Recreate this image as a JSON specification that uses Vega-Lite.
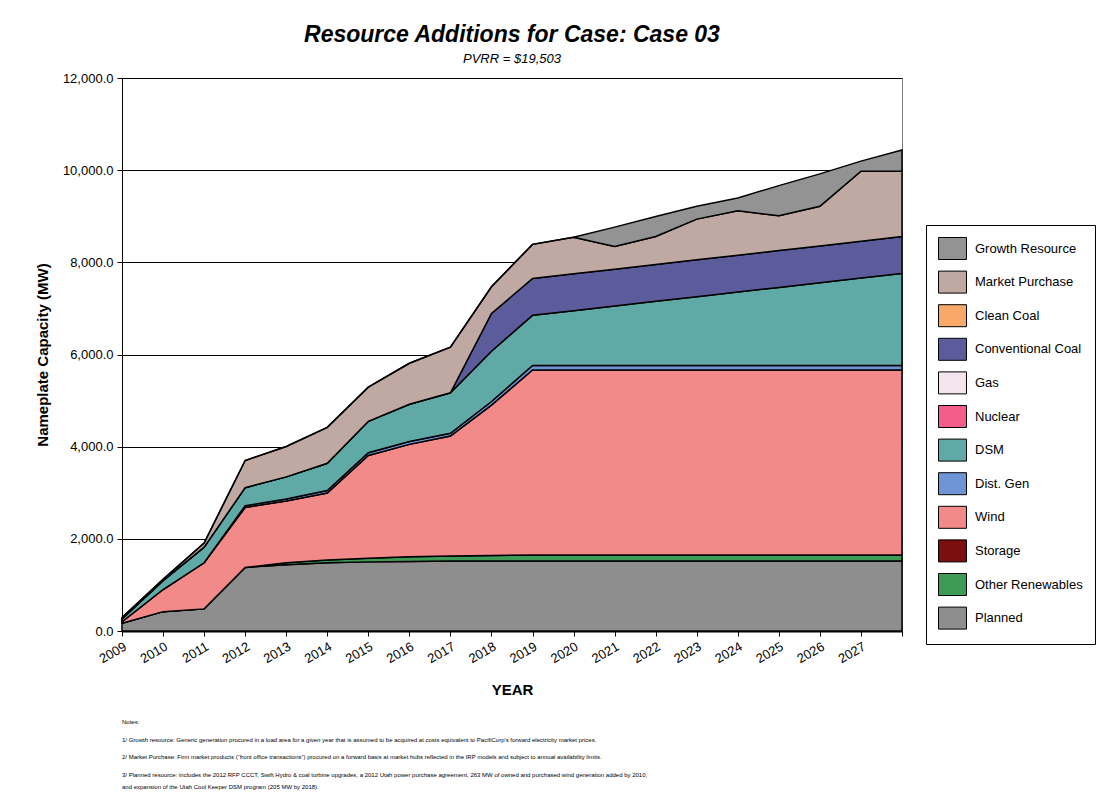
{
  "$schema": "https://vega.github.io/schema/vega-lite/v6.json",
  "background": "white",
  "padding": {"left": 34, "top": 23, "right": 5, "bottom": 5},
  "config": {
    "font": "Liberation Sans",
    "view": {"stroke": "#808080"}
  },
  "datasets": {
    "mw": [
      {"year": 2009, "planned": 170, "otherRen": 0, "wind": 30, "distGen": 0, "dsm": 60, "coal": 0, "market": 30, "growth": 0},
      {"year": 2010, "planned": 420, "otherRen": 0, "wind": 480, "distGen": 0, "dsm": 190, "coal": 0, "market": 30, "growth": 0},
      {"year": 2011, "planned": 480, "otherRen": 0, "wind": 1000, "distGen": 0, "dsm": 340, "coal": 0, "market": 90, "growth": 0},
      {"year": 2012, "planned": 1380, "otherRen": 0, "wind": 1300, "distGen": 40, "dsm": 390, "coal": 0, "market": 590, "growth": 0},
      {"year": 2013, "planned": 1440, "otherRen": 40, "wind": 1340, "distGen": 45, "dsm": 480, "coal": 0, "market": 660, "growth": 0},
      {"year": 2014, "planned": 1480, "otherRen": 60, "wind": 1455, "distGen": 55, "dsm": 590, "coal": 0, "market": 780, "growth": 0},
      {"year": 2015, "planned": 1500, "otherRen": 80, "wind": 2230, "distGen": 60, "dsm": 680, "coal": 0, "market": 740, "growth": 0},
      {"year": 2016, "planned": 1510, "otherRen": 100, "wind": 2440, "distGen": 60, "dsm": 810, "coal": 0, "market": 890, "growth": 0},
      {"year": 2017, "planned": 1520, "otherRen": 110, "wind": 2600, "distGen": 60, "dsm": 880, "coal": 0, "market": 990, "growth": 0},
      {"year": 2018, "planned": 1520, "otherRen": 120, "wind": 3260, "distGen": 80, "dsm": 1090, "coal": 820, "market": 580, "growth": 0},
      {"year": 2019, "planned": 1520, "otherRen": 130, "wind": 4015, "distGen": 95, "dsm": 1090, "coal": 800, "market": 740, "growth": 0},
      {"year": 2020, "planned": 1520, "otherRen": 130, "wind": 4015, "distGen": 95, "dsm": 1191, "coal": 800, "market": 794, "growth": 0},
      {"year": 2021, "planned": 1520, "otherRen": 130, "wind": 4015, "distGen": 95, "dsm": 1292, "coal": 800, "market": 490, "growth": 422},
      {"year": 2022, "planned": 1520, "otherRen": 130, "wind": 4015, "distGen": 95, "dsm": 1393, "coal": 800, "market": 607, "growth": 436},
      {"year": 2023, "planned": 1520, "otherRen": 130, "wind": 4015, "distGen": 95, "dsm": 1494, "coal": 800, "market": 884, "growth": 277},
      {"year": 2024, "planned": 1520, "otherRen": 130, "wind": 4015, "distGen": 95, "dsm": 1595, "coal": 800, "market": 965, "growth": 276},
      {"year": 2025, "planned": 1520, "otherRen": 130, "wind": 4015, "distGen": 95, "dsm": 1696, "coal": 800, "market": 754, "growth": 655},
      {"year": 2026, "planned": 1520, "otherRen": 130, "wind": 4015, "distGen": 95, "dsm": 1797, "coal": 800, "market": 858, "growth": 705},
      {"year": 2027, "planned": 1520, "otherRen": 130, "wind": 4015, "distGen": 95, "dsm": 1898, "coal": 800, "market": 1520, "growth": 218},
      {"year": 2028, "planned": 1520, "otherRen": 130, "wind": 4015, "distGen": 95, "dsm": 2000, "coal": 800, "market": 1418, "growth": 458}
    ],
    "layers": [
      {"key": "planned", "resource": "Planned", "rank": 1},
      {"key": "otherRen", "resource": "Other Renewables", "rank": 2},
      {"key": "wind", "resource": "Wind", "rank": 4},
      {"key": "distGen", "resource": "Dist. Gen", "rank": 5},
      {"key": "dsm", "resource": "DSM", "rank": 6},
      {"key": "coal", "resource": "Conventional Coal", "rank": 9},
      {"key": "market", "resource": "Market Purchase", "rank": 11},
      {"key": "growth", "resource": "Growth Resource", "rank": 12}
    ],
    "notes": [
      {"n": 1, "text": "Notes:"},
      {"n": 2, "text": "1/ Growth resource: Generic generation procured in a load area for a given year that is assumed to be acquired at costs equivalent to PacifiCorp's forward electricity market prices."},
      {"n": 3, "text": "2/ Market Purchase: Firm market products (“front office transactions”) procured on a forward basis at market hubs reflected in the IRP models and subject to annual availability limits."},
      {"n": 4, "text": "3/ Planned resource: includes the 2012 RFP CCCT, Swift Hydro & coal turbine upgrades, a 2012 Utah power purchase agreement, 263 MW of owned and purchased wind generation added by 2010,\n\u2003\u2003and expansion of the Utah Cool Keeper DSM program (205 MW by 2018)."}
    ]
  },
  "bounds": "flush",
  "spacing": 88,
  "vconcat": [
    {
      "width": 780,
      "height": 553,
      "title": {
        "text": "Resource Additions for Case: Case 03",
        "subtitle": "PVRR = $19,503",
        "fontSize": 23,
        "fontWeight": "bold",
        "fontStyle": "italic",
        "color": "black",
        "subtitleFontSize": 13,
        "subtitleFontStyle": "italic",
        "subtitleColor": "black",
        "subtitlePadding": 6,
        "anchor": "middle",
        "frame": "group",
        "offset": 6
      },
      "data": {"name": "mw"},
      "transform": [
        {"fold": ["planned", "otherRen", "wind", "distGen", "dsm", "coal", "market", "growth"], "as": ["key", "mw"]},
        {"lookup": "key", "from": {"data": {"name": "layers"}, "key": "key", "fields": ["resource", "rank"]}}
      ],
      "mark": {"type": "area", "stroke": "black", "strokeWidth": 1.5, "opacity": 1},
      "encoding": {
        "x": {
          "field": "year",
          "type": "quantitative",
          "scale": {"domain": [2009, 2028], "nice": false, "zero": false},
          "axis": {
            "values": [2009, 2010, 2011, 2012, 2013, 2014, 2015, 2016, 2017, 2018, 2019, 2020, 2021, 2022, 2023, 2024, 2025, 2026, 2027, 2028],
            "format": "d",
            "labelExpr": "datum.value == 2028 ? '' : datum.label",
            "labelAngle": -30,
            "labelAlign": "right",
            "labelBaseline": "top",
            "labelFontSize": 13,
            "labelColor": "black",
            "labelPadding": 4,
            "labelOverlap": false,
            "labelFlush": false,
            "grid": false,
            "tickSize": 5,
            "tickColor": "black",
            "domainColor": "black",
            "domainWidth": 2,
            "title": "YEAR",
            "titleFontSize": 15,
            "titleFontWeight": "bold",
            "titleColor": "black",
            "titlePadding": 17
          }
        },
        "y": {
          "field": "mw",
          "type": "quantitative",
          "stack": "zero",
          "scale": {"domain": [0, 12000], "nice": false},
          "axis": {
            "values": [0, 2000, 4000, 6000, 8000, 10000, 12000],
            "format": ",.1f",
            "labelFontSize": 13,
            "labelColor": "black",
            "labelPadding": 4,
            "grid": true,
            "gridColor": "black",
            "gridOpacity": 1,
            "gridWidth": 1,
            "tickSize": 5,
            "tickColor": "black",
            "domainColor": "black",
            "title": "Nameplate Capacity (MW)",
            "titleFontSize": 15,
            "titleFontWeight": "bold",
            "titleColor": "black",
            "titlePadding": 12
          }
        },
        "color": {
          "field": "resource",
          "type": "nominal",
          "scale": {
            "domain": ["Growth Resource", "Market Purchase", "Clean Coal", "Conventional Coal", "Gas", "Nuclear", "DSM", "Dist. Gen", "Wind", "Storage", "Other Renewables", "Planned"],
            "range": ["#939393", "#c0a9a3", "#f9a868", "#5c5c9c", "#f4e4ee", "#f45c8a", "#5fa9a7", "#6f94d6", "#f38a8a", "#7b0e0e", "#3f9a55", "#8e8e8e"]
          },
          "legend": {
            "orient": "none",
            "legendX": 804,
            "legendY": 147,
            "title": null,
            "symbolType": "M-1.27,-1H1.27V1H-1.27Z",
            "symbolSize": 484,
            "symbolStrokeColor": "black",
            "symbolStrokeWidth": 1,
            "symbolOpacity": 1,
            "symbolOffset": 3,
            "labelFontSize": 13,
            "labelColor": "black",
            "labelOffset": 11,
            "rowPadding": 6.6,
            "strokeColor": "black",
            "padding": 12
          }
        },
        "order": {"field": "rank", "type": "quantitative"}
      }
    },
    {
      "width": 780,
      "height": 53,
      "view": {"stroke": null},
      "data": {"name": "notes"},
      "mark": {"type": "text", "align": "left", "baseline": "top", "font": "Liberation Sans", "fontSize": 6, "lineHeight": 12, "lineBreak": "\n", "color": "black"},
      "encoding": {
        "y": {"field": "n", "type": "ordinal", "axis": null, "scale": {"type": "point", "padding": 0}},
        "x": {"value": 0},
        "text": {"field": "text"}
      }
    }
  ]
}
